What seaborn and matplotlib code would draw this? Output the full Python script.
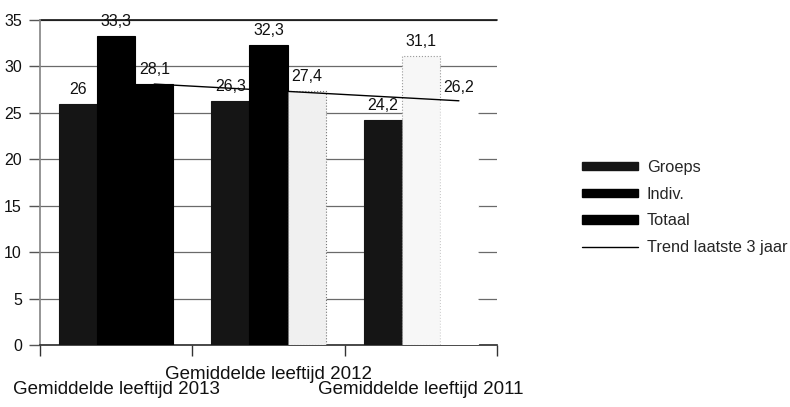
import matplotlib
matplotlib.use("Agg")
import matplotlib.pyplot as plt
import seaborn as sns
import pandas as pd
from matplotlib.patches import Patch
from matplotlib.lines import Line2D

# ---- data ----
categories = ["Gemiddelde leeftijd 2013", "Gemiddelde leeftijd 2012", "Gemiddelde leeftijd 2011"]
series = ["Groeps", "Indiv.", "Totaal"]
groeps = [26.0, 26.3, 24.2]
indiv = [33.3, 32.3, 31.1]
totaal = [28.1, 27.4, 26.2]
trend = [28.1, 27.2, 26.3]
trend_label = "Trend laatste 3 jaar"
y_ticks = [0, 5, 10, 15, 20, 25, 30, 35]

rows = []
for s, vals in zip(series, [groeps, indiv, totaal]):
    for c, v in zip(categories, vals):
        rows.append({"cat": c, "serie": s, "val": v})
df = pd.DataFrame(rows)

# ---- style ----
sns.set_theme(style="white")
plt.rcParams["font.family"] = ["Liberation Sans", "DejaVu Sans"]

fig = plt.figure(figsize=(7.9, 4.07), dpi=100)
ax = fig.add_axes([40 / 790, 62 / 407, 457 / 790, 325 / 407])

palette = {"Groeps": "#151515", "Indiv.": "#000000", "Totaal": "#000000"}
sns.barplot(data=df, x="cat", y="val", hue="serie", order=categories,
            hue_order=series, palette=palette, width=0.75, errorbar=None,
            saturation=1, ax=ax, legend=False, zorder=3)

# appearance of individual bars as in the (faded) reference
faded = {(2, 1): ("#f7f7f7", "#999999"), (2, 2): ("#ffffff", "#ffffff"),
         (1, 2): ("#f0f0f0", "#777777")}
for si, cont in enumerate(ax.containers):
    for ci, bar in enumerate(cont):
        bar.set_linewidth(0.8)
        bar.set_edgecolor(bar.get_facecolor())
        if (ci, si) in faded:
            fc, ec = faded[(ci, si)]
            bar.set_facecolor(fc)
            bar.set_edgecolor(ec)
            bar.set_linestyle(":")

# value labels
for si, cont in enumerate(ax.containers):
    vals = [groeps, indiv, totaal][si]
    ax.bar_label(cont, labels=[f"{v:g}".replace(".", ",") for v in vals],
                 padding=5, fontsize=11.5, color="#111111", zorder=5)

# trend line through the Totaal bars
totaal_x = [bar.get_x() + bar.get_width() / 2 for bar in ax.containers[2]]
ax.plot(totaal_x, trend, color="#000000", lw=1.0, zorder=4)

ax.set_xlim(-0.5, 2.5)
ax.set_ylim(0, 35)
ax.set_yticks(y_ticks)
ax.set_yticklabels([str(t) for t in y_ticks], fontsize=11.5, color="#111111")
ax.yaxis.grid(True, color="#6a6a6a", lw=0.9, zorder=0)
ax.set_axisbelow(True)
ax.set_xticks([-0.5, 0.5, 1.5, 2.5])
ax.set_xticklabels([])
ax.tick_params(axis="x", length=8, width=1, color="#333333", direction="out", bottom=True)
ax.tick_params(axis="y", length=8, width=1, color="#555555", direction="out", left=True, pad=5)
ax.set_xlabel("")
ax.set_ylabel("")
for side in ["top", "right"]:
    ax.spines[side].set_visible(False)
ax.spines["left"].set_color("#888888")
ax.spines["bottom"].set_color("#333333")
ax.axhline(35, color="#111111", lw=1.2, zorder=2, clip_on=False)

# staggered category labels
offs = [-0.138, -0.09, -0.138]
for i, (c, o) in enumerate(zip(categories, offs)):
    ax.text(i, o, c, transform=ax.get_xaxis_transform(), ha="center",
            va="center", fontsize=13.5, color="#111111")

handles = [Patch(facecolor="#151515", edgecolor="#151515"),
           Patch(facecolor="#000000", edgecolor="#000000"),
           Patch(facecolor="#000000", edgecolor="#000000"),
           Line2D([0], [0], color="#000000", lw=1.0)]
fig.legend(handles, series + [trend_label], loc="center left",
           bbox_to_anchor=(582 / 790, 0.490), frameon=False, fontsize=11.8,
           handlelength=3.4, handleheight=0.4, handletextpad=0.55,
           labelspacing=0.72, borderpad=0, borderaxespad=0)

fig.savefig("out.png", dpi=100)
